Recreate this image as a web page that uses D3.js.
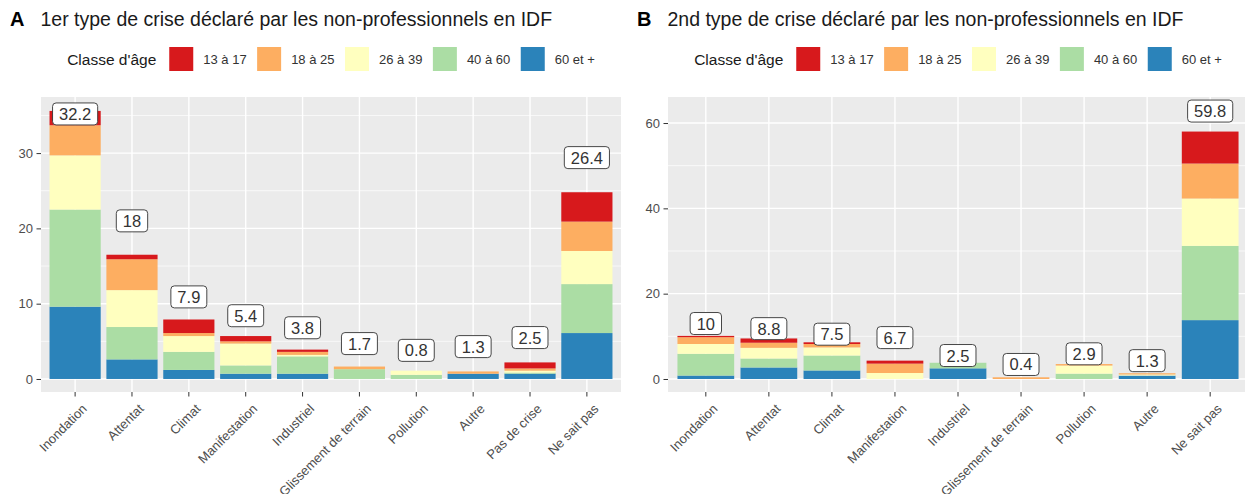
<!DOCTYPE html>
<html>
<head>
<meta charset="utf-8">
<script src="https://cdn.jsdelivr.net/npm/d3@7"></script>
<style>
  body { margin: 0; background: #fff; }
  svg { display: block; font-family: "Liberation Sans", Arial, sans-serif; }
</style>
</head>
<body>
<svg id="chart" width="1245" height="494"></svg>
<script>
// ---------- DATA ----------
const ageClasses = ["13 à 17", "18 à 25", "26 à 39", "40 à 60", "60 et +"];
const ageColors = ["#D7191C", "#FDAE61", "#FFFFBF", "#ABDDA4", "#2B83BA"];

const titleA = "1er type de crise déclaré par les non-professionnels en IDF";
const titleB = "2nd type de crise déclaré par les non-professionnels en IDF";
const legendTitle = "Classe d'âge";

const categoriesA = ["Inondation", "Attentat", "Climat", "Manifestation", "Industriel",
  "Glissement de terrain", "Pollution", "Autre", "Pas de crise", "Ne sait pas"];
const a60plus  = [9.6, 2.6, 1.2, 0.7, 0.7, 0.0, 0.0, 0.7, 0.7, 6.1];
const a40to60  = [12.9, 4.3, 2.4, 1.1, 2.3, 1.3, 0.55, 0.0, 0.15, 6.5];
const a26to39  = [7.2, 4.9, 2.1, 2.9, 0.2, 0.0, 0.55, 0.0, 0.25, 4.4];
const a18to25  = [4.0, 4.1, 0.4, 0.3, 0.4, 0.35, 0.0, 0.3, 0.3, 3.9];
const a13to17  = [1.9, 0.6, 1.8, 0.7, 0.3, 0.0, 0.0, 0.0, 0.8, 3.9];
const labelsA  = [32.2, 18, 7.9, 5.4, 3.8, 1.7, 0.8, 1.3, 2.5, 26.4];

const categoriesB = ["Inondation", "Attentat", "Climat", "Manifestation", "Industriel",
  "Glissement de terrain", "Pollution", "Autre", "Ne sait pas"];
const b60plus  = [0.8, 2.7, 2.0, 0.0, 2.5, 0.0, 0.0, 0.8, 13.8];
const b40to60  = [5.1, 2.1, 3.5, 0.0, 1.3, 0.0, 1.25, 0.0, 17.4];
const b26to39  = [2.3, 2.5, 1.9, 1.4, 0.0, 0.0, 1.9, 0.25, 11.1];
const b18to25  = [1.6, 1.2, 0.8, 2.2, 0.0, 0.4, 0.35, 0.3, 8.2];
const b13to17  = [0.3, 1.0, 0.4, 0.7, 0.0, 0.0, 0.0, 0.0, 7.5];
const labelsB  = [10, 8.8, 7.5, 6.7, 2.5, 0.4, 2.9, 1.3, 59.8];

// ---------- DRAW ----------
const svg = d3.select("#chart");
const color = d3.scaleOrdinal().domain(ageClasses).range(ageColors);
const stackOrder = ["60 et +", "40 à 60", "26 à 39", "18 à 25", "13 à 17"]; // bottom -> top

function drawPanel(opt) {
  const { letter, title, cats, series, labels, left, right, top, bottom, yDomain, titleX } = opt;
  const g = svg.append("g");

  const rows = cats.map((c, i) => {
    const r = { cat: c };
    ageClasses.forEach((a, k) => r[a] = series[k][i]);
    return r;
  });

  const x = d3.scaleBand().domain(cats).range([left, right]).paddingInner(0.1).paddingOuter(0.15);
  const y = d3.scaleLinear().domain(yDomain).range([bottom, top]);

  // panel background
  g.append("rect").attr("x", left).attr("y", top).attr("width", right - left).attr("height", bottom - top)
    .attr("fill", "#EBEBEB");

  const major = y.ticks(4);
  const step = major[1] - major[0];
  const minor = [];
  major.concat([major[major.length - 1] + step]).forEach(v => {
    const m = v - step / 2;
    if (m > yDomain[0] && m < yDomain[1]) minor.push(m);
  });

  g.selectAll(".minor").data(minor).join("line")
    .attr("x1", left).attr("x2", right).attr("y1", d => y(d)).attr("y2", d => y(d))
    .attr("stroke", "#fff").attr("stroke-width", 0.7);
  g.selectAll(".majory").data(major).join("line")
    .attr("x1", left).attr("x2", right).attr("y1", d => y(d)).attr("y2", d => y(d))
    .attr("stroke", "#fff").attr("stroke-width", 1.4);
  g.selectAll(".majorx").data(cats).join("line")
    .attr("x1", d => x(d) + x.bandwidth() / 2).attr("x2", d => x(d) + x.bandwidth() / 2)
    .attr("y1", top).attr("y2", bottom)
    .attr("stroke", "#fff").attr("stroke-width", 1.4);

  // stacked bars
  const stacked = d3.stack().keys(stackOrder)(rows);
  g.append("g").selectAll("g").data(stacked).join("g")
    .attr("fill", d => color(d.key))
    .selectAll("rect").data(d => d).join("rect")
    .attr("x", d => x(d.data.cat))
    .attr("width", x.bandwidth())
    .attr("y", d => y(d[1]))
    .attr("height", d => Math.max(0, y(d[0]) - y(d[1])));

  // labels
  const lg = g.append("g").selectAll("g").data(cats).join("g")
    .attr("transform", (d, i) => `translate(${x(d) + x.bandwidth() / 2},${y(labels[i] + 3)})`);
  const rects = lg.append("rect").attr("fill", "#fff").attr("stroke", "#333").attr("stroke-width", 0.9)
    .attr("rx", 3.5).attr("ry", 3.5);
  const texts = lg.append("text").text((d, i) => String(labels[i]))
    .attr("text-anchor", "middle").attr("dominant-baseline", "central")
    .attr("font-size", 16.5).attr("fill", "#333");
  texts.each(function () {
    const w = this.getComputedTextLength();
    d3.select(this.previousSibling).attr("x", -w / 2 - 6.5).attr("width", w + 13)
      .attr("y", -11).attr("height", 22);
  });

  // y axis
  const ya = g.append("g").attr("transform", `translate(${left},0)`)
    .call(d3.axisLeft(y).tickValues(major).tickSize(4.5).tickPadding(3.5));
  ya.select(".domain").remove();
  ya.selectAll(".tick line").attr("stroke", "#333").attr("stroke-width", 1);
  ya.selectAll(".tick text").attr("font-size", 13).attr("fill", "#4D4D4D")
    .attr("font-family", "Liberation Sans, Arial, sans-serif");

  // x axis
  const xa = g.append("g").attr("transform", `translate(0,${bottom})`)
    .call(d3.axisBottom(x).tickSize(4.5));
  xa.select(".domain").remove();
  xa.selectAll(".tick line").attr("stroke", "#333").attr("stroke-width", 1);
  xa.selectAll(".tick text").attr("font-size", 13).attr("fill", "#4D4D4D")
    .attr("font-family", "Liberation Sans, Arial, sans-serif")
    .attr("text-anchor", "end").attr("x", 0).attr("y", 0).attr("dy", "0.71em")
    .attr("transform", "translate(6,11) rotate(-45)");

  // title
  g.append("text").attr("x", titleX).attr("y", 26).attr("font-size", 20).attr("font-weight", "bold")
    .attr("fill", "#000").text(letter);
  g.append("text").attr("x", titleX + 30.5).attr("y", 26).attr("font-size", 19.5)
    .attr("fill", "#1a1a1a").text(title);

  // legend (centered over panel)
  const leg = g.append("g");
  const lt = leg.append("text").attr("x", 0).attr("y", 59).attr("dominant-baseline", "central")
    .attr("font-size", 15.5).attr("fill", "#1a1a1a").text(legendTitle);
  let cx = lt.node().getComputedTextLength() + 13;
  ageClasses.forEach((a, k) => {
    leg.append("rect").attr("x", cx).attr("y", 47).attr("width", 24).attr("height", 24)
      .attr("fill", color(a));
    const t = leg.append("text").attr("x", cx + 34).attr("y", 59).attr("dominant-baseline", "central")
      .attr("font-size", 13).attr("fill", "#333").text(a);
    cx += 34 + t.node().getComputedTextLength() + (k < ageClasses.length - 1 ? 10.5 : 0);
  });
  const center = (left + right) / 2;
  leg.attr("transform", `translate(${center - cx / 2},0)`);
}

drawPanel({
  letter: "A", title: titleA, cats: categoriesA,
  series: [a13to17, a18to25, a26to39, a40to60, a60plus], labels: labelsA,
  left: 41, right: 621, top: 97, bottom: 392, yDomain: [-1.73, 37.45], titleX: 10
});
drawPanel({
  letter: "B", title: titleB, cats: categoriesB,
  series: [b13to17, b18to25, b26to39, b40to60, b60plus], labels: labelsB,
  left: 668, right: 1248, top: 97, bottom: 392, yDomain: [-3.05, 66.1], titleX: 637
});
</script>
</body>
</html>
